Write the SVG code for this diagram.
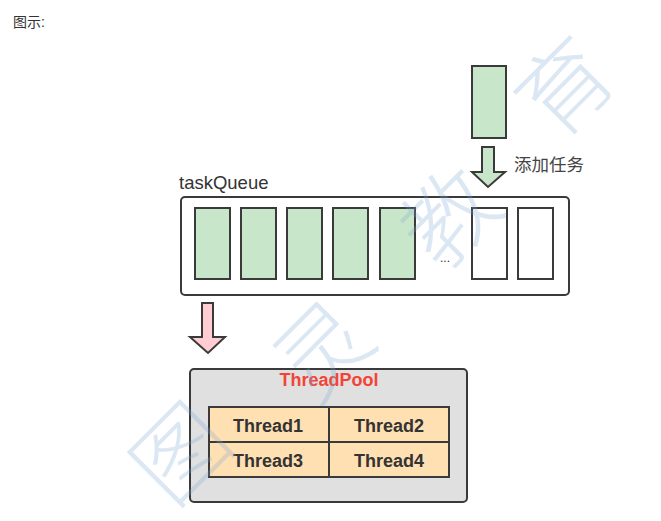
<svg xmlns="http://www.w3.org/2000/svg" width="661" height="521" viewBox="0 0 661 521">
<style>
.ln{stroke:#3a3a3a;stroke-width:2;}
.g{fill:#c8e6c9;}
.w{fill:#ffffff;}
.t{font-family:"Liberation Sans","Noto Sans CJK SC",sans-serif;fill:#333;}
.b{font-weight:bold;font-size:18px;text-anchor:middle;}
.wm{font-family:"Noto Sans CJK SC",sans-serif;font-size:92px;font-weight:300;fill:#7fa6d6;fill-opacity:0.27;text-anchor:middle;dominant-baseline:central;}
</style>
<rect width="661" height="521" fill="#fff"/>
<text class="t" x="13" y="27" font-size="14">图示:</text>
<g id="task">
<rect class="ln g" x="472" y="66" width="34" height="72"/>
</g>
<g id="taskQueue">
<text class="t" x="179" y="189" font-size="18.5">taskQueue</text>
<rect class="ln w" x="181" y="197" width="388" height="98" rx="4"/>
<rect class="ln g" x="195" y="208" width="35" height="71"/>
<rect class="ln g" x="241" y="208" width="35" height="71"/>
<rect class="ln g" x="287" y="208" width="35" height="71"/>
<rect class="ln g" x="333" y="208" width="35" height="71"/>
<rect class="ln g" x="380" y="208" width="35" height="71"/>
<text class="t" x="445" y="262" font-size="12" text-anchor="middle">...</text>
<rect class="ln w" x="472" y="208" width="35" height="71"/>
<rect class="ln w" x="518" y="208" width="35" height="71"/>
</g>
<g id="connectors">
<path class="ln" fill="#c8e6c9" d="M482,147 H494 V172 H505 L488,187 L472,172 H482 Z"/>
<text class="t" x="514" y="171" font-size="17.5" style="fill:#444">添加任务</text>
<path class="ln" fill="#ffcdd2" d="M202,303 H213 V337 H225 L208,353 L190,337 H202 Z"/>
</g>
<g id="threadPool">
<rect class="ln" fill="#e0e0e0" x="190" y="369" width="277" height="133" rx="4"/>
<text class="t b" x="329" y="386" style="fill:#f44336">ThreadPool</text>
</g>
<g id="threads">
<rect class="ln" fill="#ffe0b2" x="209" y="407" width="240" height="70"/>
<line class="ln" x1="329" y1="407" x2="329" y2="477"/>
<line class="ln" x1="209" y1="442" x2="449" y2="442"/>
<text class="t b" x="268" y="432">Thread1</text>
<text class="t b" x="389" y="432">Thread2</text>
<text class="t b" x="268" y="467">Thread3</text>
<text class="t b" x="389" y="467">Thread4</text>
</g>
<g id="watermark">
<text class="wm" x="176" y="448" font-size="80" transform="rotate(-45 176 448)">图</text>
<text class="wm" x="318" y="345" transform="rotate(-45 318 345)">灵</text>
<text class="wm" x="445" y="212" transform="rotate(-45 445 212)">教</text>
<text class="wm" x="560" y="82" transform="rotate(-45 560 82)">育</text>
</g>
</svg>
